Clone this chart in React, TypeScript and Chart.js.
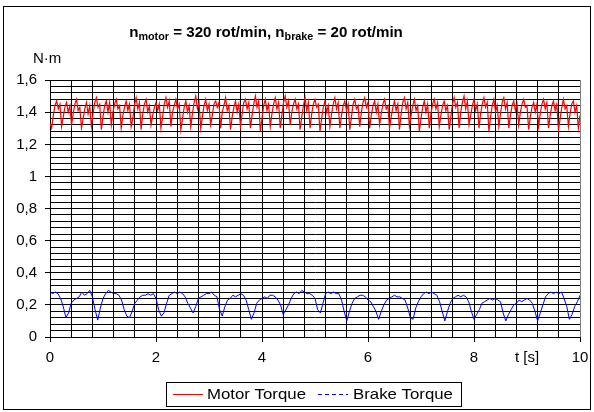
import React, { useEffect, useRef } from "react";
import { Chart, registerables } from "chart.js";

Chart.register(...registerables);

// ---- data ----
const MOTOR_DT = 0.03125; // s between motor samples
const BRAKE_DT = 0.05; // s between brake samples

const motorTorque = [
  1.33,
  1.30, 1.38, 1.44, 1.47, 1.42, 1.45,
  1.31, 1.37, 1.43, 1.46, 1.40, 1.44,
  1.32, 1.39, 1.45, 1.48, 1.41, 1.43,
  1.30, 1.36, 1.42, 1.46, 1.39, 1.44,
  1.31, 1.39, 1.46, 1.49, 1.43, 1.45,
  1.29, 1.37, 1.44, 1.47, 1.40, 1.46,
  1.32, 1.40, 1.45, 1.48, 1.42, 1.44,
  1.30, 1.38, 1.43, 1.47, 1.41, 1.45,
  1.31, 1.36, 1.44, 1.49, 1.42, 1.46,
  1.29, 1.39, 1.45, 1.48, 1.40, 1.44,
  1.32, 1.38, 1.43, 1.46, 1.41, 1.45,
  1.30, 1.37, 1.45, 1.49, 1.43, 1.47,
  1.31, 1.40, 1.44, 1.48, 1.42, 1.45,
  1.29, 1.36, 1.43, 1.47, 1.40, 1.44,
  1.31, 1.39, 1.46, 1.50, 1.42, 1.46,
  1.30, 1.37, 1.44, 1.48, 1.41, 1.45,
  1.32, 1.38, 1.45, 1.47, 1.43, 1.46,
  1.30, 1.40, 1.44, 1.49, 1.41, 1.44,
  1.29, 1.37, 1.43, 1.47, 1.40, 1.45,
  1.31, 1.39, 1.46, 1.48, 1.42, 1.46,
  1.30, 1.38, 1.45, 1.50, 1.43, 1.47,
  1.28, 1.36, 1.44, 1.48, 1.41, 1.45,
  1.31, 1.39, 1.45, 1.49, 1.42, 1.46,
  1.30, 1.38, 1.46, 1.50, 1.43, 1.47,
  1.32, 1.40, 1.45, 1.48, 1.42, 1.45,
  1.29, 1.37, 1.44, 1.49, 1.41, 1.46,
  1.30, 1.39, 1.45, 1.48, 1.43, 1.45,
  1.28, 1.36, 1.43, 1.47, 1.40, 1.44,
  1.31, 1.39, 1.45, 1.49, 1.42, 1.46,
  1.30, 1.38, 1.44, 1.47, 1.41, 1.45,
  1.29, 1.37, 1.45, 1.48, 1.42, 1.44,
  1.31, 1.40, 1.46, 1.49, 1.43, 1.46,
  1.30, 1.38, 1.44, 1.47, 1.40, 1.45,
  1.32, 1.39, 1.45, 1.48, 1.42, 1.44,
  1.30, 1.37, 1.43, 1.47, 1.41, 1.45,
  1.29, 1.39, 1.46, 1.49, 1.42, 1.46,
  1.31, 1.38, 1.44, 1.48, 1.41, 1.44,
  1.28, 1.36, 1.43, 1.47, 1.40, 1.45,
  1.30, 1.39, 1.45, 1.48, 1.42, 1.46,
  1.31, 1.38, 1.44, 1.47, 1.41, 1.44,
  1.29, 1.37, 1.45, 1.49, 1.43, 1.46,
  1.30, 1.40, 1.46, 1.50, 1.42, 1.47,
  1.32, 1.38, 1.44, 1.48, 1.41, 1.45,
  1.30, 1.39, 1.45, 1.49, 1.43, 1.46,
  1.28, 1.37, 1.44, 1.48, 1.40, 1.44,
  1.31, 1.39, 1.46, 1.49, 1.42, 1.46,
  1.30, 1.38, 1.44, 1.47, 1.41, 1.45,
  1.32, 1.40, 1.45, 1.48, 1.43, 1.44,
  1.29, 1.37, 1.43, 1.46, 1.40, 1.45,
  1.31, 1.39, 1.45, 1.48, 1.42, 1.46,
  1.30, 1.38, 1.44, 1.47, 1.41, 1.45,
  1.29, 1.36, 1.43, 1.48, 1.42, 1.44,
  1.31, 1.39, 1.45, 1.47, 1.40, 1.44,
  1.30, 1.38,
];

const brakeTorque = [
  0.28, 0.27, 0.28, 0.27, 0.24, 0.19, 0.12, 0.15, 0.21, 0.23,
  0.24, 0.25, 0.28, 0.26, 0.27, 0.29, 0.25, 0.17, 0.105, 0.18,
  0.24, 0.27, 0.29, 0.28, 0.27, 0.27, 0.26, 0.23, 0.17, 0.13,
  0.12, 0.16, 0.21, 0.23, 0.25, 0.26, 0.26, 0.27, 0.26, 0.27,
  0.24, 0.17, 0.13, 0.15, 0.21, 0.26, 0.27, 0.28, 0.27, 0.28,
  0.27, 0.25, 0.21, 0.18, 0.15, 0.19, 0.24, 0.25, 0.26, 0.27,
  0.27, 0.28, 0.26, 0.25, 0.17, 0.13, 0.19, 0.23, 0.24, 0.26,
  0.25, 0.26, 0.27, 0.26, 0.23, 0.17, 0.11, 0.15, 0.21, 0.23,
  0.24, 0.25, 0.24, 0.26, 0.26, 0.25, 0.23, 0.20, 0.14, 0.17,
  0.20, 0.24, 0.27, 0.28, 0.27, 0.29, 0.28, 0.27, 0.27, 0.26,
  0.24, 0.17, 0.15, 0.21, 0.27, 0.28, 0.27, 0.28, 0.27, 0.27,
  0.23, 0.16, 0.10, 0.16, 0.21, 0.24, 0.25, 0.26, 0.26, 0.25,
  0.23, 0.22, 0.19, 0.16, 0.11, 0.16, 0.20, 0.23, 0.24, 0.25,
  0.26, 0.25, 0.25, 0.24, 0.23, 0.18, 0.12, 0.11, 0.18, 0.22,
  0.25, 0.27, 0.28, 0.27, 0.28, 0.27, 0.26, 0.22, 0.16, 0.10,
  0.16, 0.21, 0.24, 0.25, 0.26, 0.25, 0.26, 0.25, 0.22, 0.16,
  0.11, 0.14, 0.17, 0.21, 0.22, 0.23, 0.24, 0.23, 0.24, 0.23,
  0.22, 0.15, 0.10, 0.14, 0.17, 0.20, 0.21, 0.23, 0.22, 0.23,
  0.24, 0.23, 0.21, 0.16, 0.10, 0.15, 0.20, 0.25, 0.27, 0.28,
  0.27, 0.28, 0.27, 0.28, 0.24, 0.19, 0.11, 0.14, 0.19, 0.22,
  0.26,
];

const xLabelValues = [0, 2, 4, 6, 8, 10];
const yLabelValues = [0, 0.2, 0.4, 0.6, 0.8, 1, 1.2, 1.4, 1.6];
const X_GRID_STEP = 0.4;
const Y_GRID_STEP = 0.04;
const X_MIN = 0, X_MAX = 10, Y_MIN = 0, Y_MAX = 1.6;
const X_UNIT_LABEL = "t [s]";
const X_UNIT_AT = 9;
const Y_UNIT_LABEL = "N·m";
const seriesNames = ["Motor Torque", "Brake Torque"];

const FONT = "'Liberation Sans', Arial, sans-serif";

const isLabel = (list: number[], v: number) => list.some((l) => Math.abs(l - v) < 1e-6);
const fmt = (v: number) => String(Math.round(v * 10) / 10).replace(".", ",");

function stretchText(ctx: any, text: string, x: number, y: number, align: string, sx: number) {
  ctx.save();
  ctx.translate(x, y);
  ctx.scale(sx, 1);
  ctx.textAlign = align;
  ctx.fillText(text, 0, 0);
  ctx.restore();
}

const TICK_FONT = `14px ${FONT}`;
const TICK_SX = 1.07;

const decorPlugin = {
  id: "decor",
  beforeDraw(chart: any) {
    const { ctx, width, height } = chart;
    ctx.save();
    ctx.fillStyle = "#ffffff";
    ctx.fillRect(0, 0, width, height);
    ctx.restore();
  },
  afterDraw(chart: any) {
    const { ctx, chartArea, scales } = chart;
    ctx.save();
    // right border of plot
    ctx.strokeStyle = "#808080";
    ctx.lineWidth = 1;
    ctx.beginPath();
    ctx.moveTo(chartArea.right + 0.5, chartArea.top);
    ctx.lineTo(chartArea.right + 0.5, chartArea.bottom);
    ctx.stroke();

    // outer frame
    ctx.strokeStyle = "#000";
    ctx.lineWidth = 1;
    ctx.strokeRect(3.5, 6.5, 587, 403);

    ctx.fillStyle = "#000";

    // tick labels
    ctx.font = TICK_FONT;
    ctx.textBaseline = "middle";
    yLabelValues.forEach((v) => {
      stretchText(ctx, fmt(v), 37, scales.y.getPixelForValue(v) + 0.5, "right", TICK_SX);
    });
    xLabelValues.forEach((v) => {
      stretchText(ctx, String(v), scales.x.getPixelForValue(v), 358, "center", TICK_SX);
    });
    // x unit at position of value 9
    stretchText(ctx, X_UNIT_LABEL, scales.x.getPixelForValue(X_UNIT_AT), 358, "center", TICK_SX);
    // y unit
    ctx.textBaseline = "alphabetic";
    stretchText(ctx, Y_UNIT_LABEL, 33, 63, "left", TICK_SX);

    // title with subscripts
    const parts: [string, boolean][] = [
      ["n", false], ["motor", true], [" = 320 rot/min, n", false], ["brake", true], [" = 20 rot/min", false],
    ];
    const TSX = 1.08;
    const mainFont = `bold 14px ${FONT}`;
    const subFont = `bold 10px ${FONT}`;
    let total = 0;
    for (const [t, sub] of parts) {
      ctx.font = sub ? subFont : mainFont;
      total += ctx.measureText(t).width * TSX;
    }
    let x = 266 - total / 2;
    const base = 37;
    for (const [t, sub] of parts) {
      ctx.font = sub ? subFont : mainFont;
      stretchText(ctx, t, x, sub ? base + 3 : base, "left", TSX);
      x += ctx.measureText(t).width * TSX;
    }

    // legend
    ctx.strokeStyle = "#000";
    ctx.strokeRect(166.5, 382.5, 295, 24);
    const ly = 394.5;
    const items = chart.data.datasets;
    const sampleX = [173, 318];
    const textX = [207, 353];
    items.forEach((ds: any, i: number) => {
      ctx.strokeStyle = ds.borderColor;
      ctx.lineWidth = 1;
      ctx.setLineDash(i === 1 ? [4, 3] : []);
      ctx.beginPath();
      ctx.moveTo(sampleX[i], ly);
      ctx.lineTo(sampleX[i] + 30, ly);
      ctx.stroke();
      ctx.setLineDash([]);
      ctx.fillStyle = "#000";
      ctx.textBaseline = "middle";
      ctx.font = `15px ${FONT}`;
      stretchText(ctx, ds.label, textX[i], ly + 0.5, "left", 1.12);
    });
    ctx.restore();
  },
};

export default function App() {
  const ref = useRef<HTMLCanvasElement | null>(null);
  useEffect(() => {
    if (!ref.current) return;
    const xGrid: number[] = [];
    for (let i = 0; i <= Math.round((X_MAX - X_MIN) / X_GRID_STEP); i++) xGrid.push(X_MIN + i * X_GRID_STEP);
    const yGrid: number[] = [];
    for (let i = 0; i <= Math.round((Y_MAX - Y_MIN) / Y_GRID_STEP); i++) yGrid.push(Y_MIN + i * Y_GRID_STEP);

    const chart = new Chart(ref.current, {
      type: "line",
      data: {
        datasets: [
          {
            label: seriesNames[0],
            data: motorTorque.map((v, i) => ({ x: i * MOTOR_DT, y: v })),
            borderColor: "#ff0000",
            borderWidth: 1.2,
            pointRadius: 0,
            tension: 0,
          },
          {
            label: seriesNames[1],
            data: brakeTorque.map((v, i) => ({ x: i * BRAKE_DT, y: v })),
            borderColor: "#0000ff",
            borderWidth: 1,
            pointRadius: 0,
            tension: 0,
          },
        ],
      },
      options: {
        animation: false,
        responsive: false,
        devicePixelRatio: 1,
        layout: { padding: { left: 0, top: 80, right: 14, bottom: 0 } },
        plugins: { legend: { display: false }, title: { display: false }, tooltip: { enabled: false } },
        scales: {
          x: {
            type: "linear",
            min: X_MIN,
            max: X_MAX,
            afterBuildTicks: (s: any) => { s.ticks = xGrid.map((v) => ({ value: v })); },
            afterFit: (s: any) => { s.height = 75; },
            ticks: { display: false, autoSkip: false, maxRotation: 0 },
            grid: {
              color: "#000",
              lineWidth: 1,
              tickLength: 5,
              tickColor: (c: any) => (c.tick && isLabel(xLabelValues, c.tick.value) ? "#000" : "rgba(0,0,0,0)"),
            },
            border: { color: "#000", width: 1 },
          },
          y: {
            type: "linear",
            min: Y_MIN,
            max: Y_MAX,
            afterBuildTicks: (s: any) => { s.ticks = yGrid.map((v) => ({ value: v })); },
            afterFit: (s: any) => { s.width = 50; },
            ticks: { display: false, autoSkip: false },
            grid: {
              color: "#000",
              lineWidth: 1,
              tickLength: 5,
              tickColor: (c: any) => (c.tick && isLabel(yLabelValues, c.tick.value) ? "#000" : "rgba(0,0,0,0)"),
            },
            border: { color: "#000", width: 1 },
          },
        },
      },
      plugins: [decorPlugin],
    } as any);
    return () => chart.destroy();
  }, []);

  return (
    <div style={{ position: "absolute", left: 0, top: 0, width: 594, height: 412 }}>
      <canvas ref={ref} width={594} height={412} style={{ width: 594, height: 412, display: "block" }} />
    </div>
  );
}
